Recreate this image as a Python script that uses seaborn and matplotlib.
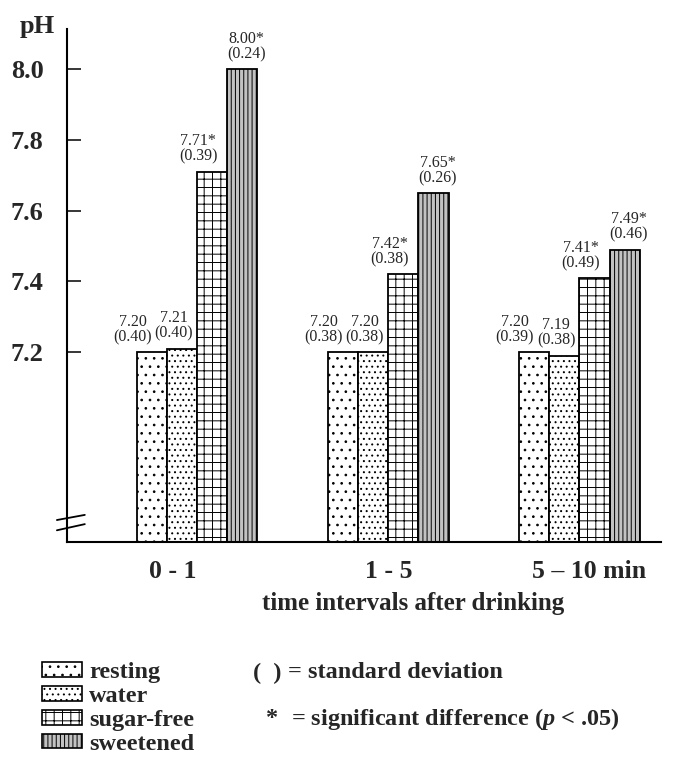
import pandas as pd
import matplotlib.pyplot as plt
import seaborn as sns
from matplotlib.patches import Patch
from matplotlib.transforms import ScaledTranslation

# data
intervals = ["0 - 1", "1 - 5", "5 – 10 min"]
conditions = ["resting", "water", "sugar-free", "sweetened"]
resting = [7.20, 7.20, 7.20]
water = [7.21, 7.20, 7.19]
sugar_free = [7.71, 7.42, 7.41]
sweetened = [8.00, 7.65, 7.49]
sd_resting = [0.40, 0.38, 0.39]
sd_water = [0.40, 0.38, 0.38]
sd_sugar_free = [0.39, 0.38, 0.49]
sd_sweetened = [0.24, 0.26, 0.46]
sig_resting = [False, False, False]
sig_water = [False, False, False]
sig_sugar_free = [True, True, True]
sig_sweetened = [True, True, True]

means = [resting, water, sugar_free, sweetened]
sds = [sd_resting, sd_water, sd_sugar_free, sd_sweetened]
sigs = [sig_resting, sig_water, sig_sugar_free, sig_sweetened]

rows = []
for c, vals in zip(conditions, means):
    for t, v in zip(intervals, vals):
        rows.append({"interval": t, "condition": c, "pH": v})
df = pd.DataFrame(rows)

sns.set_style("white")
plt.rcParams["font.family"] = ["Liberation Serif", "DejaVu Serif"]
plt.rcParams["mathtext.fontset"] = "custom"
plt.rcParams["mathtext.it"] = "Liberation Serif:italic:bold"
plt.rcParams["mathtext.rm"] = "Liberation Serif:bold"
plt.rcParams["hatch.linewidth"] = 0.7

fig = plt.figure(figsize=(6.95, 7.7), dpi=100)
ax = fig.add_axes([0.0964, 0.296, 0.854, 0.666])

colors = ["white", "white", "white", "#c2c2c2"]
hatches = ["..", "...", "++", "||||"]

sns.barplot(data=df, x="interval", y="pH", hue="condition", order=intervals,
            hue_order=conditions, palette=colors, saturation=1, width=0.63,
            edgecolor="black", linewidth=1.3, legend=False, ax=ax)

# label offsets (points) per condition
dx = [-14, -6, -10, 3]
for i, cont in enumerate(ax.containers):
    for j, bar in enumerate(cont):
        bar.set_hatch(hatches[i])
        x = bar.get_x() + bar.get_width() / 2
        y = bar.get_height()
        star = "*" if sigs[i][j] else ""
        ax.annotate(f"{means[i][j]:.2f}{star}\n({sds[i][j]:.2f})", (x, y),
                    xytext=(dx[i], 5), textcoords="offset points",
                    ha="center", va="bottom", fontsize=11.5, linespacing=0.95)

ax.set_ylim(6.663, 8.113)
ax.set_xlim(-0.681, 2.424)
ax.set_yticks([7.2, 7.4, 7.6, 7.8, 8.0])
ax.set_yticklabels(["7.2", "7.4", "7.6", "7.8", "8.0"], fontsize=19, fontweight="bold")
ax.tick_params(axis="y", direction="in", length=10, width=1.3, pad=17, left=True)
ax.tick_params(axis="x", length=0, pad=13)
shifts = [-24, 0, 10]
for lab, s in zip(ax.get_xticklabels(), shifts):
    lab.set_fontsize(18.5)
    lab.set_fontweight("bold")
    lab.set_transform(lab.get_transform() + ScaledTranslation(s / 100, 0, fig.dpi_scale_trans))

sns.despine(ax=ax)
for s in ["left", "bottom"]:
    ax.spines[s].set_linewidth(1.5)
    ax.spines[s].set_color("black")

ax.set_ylabel("")
ax.set_xlabel("time intervals after drinking", fontsize=18, fontweight="bold")
ax.xaxis.set_label_coords(0.583, -0.097)

# axis break marks
ax.plot([-0.017, 0.030], [0.043, 0.053], transform=ax.transAxes, color="black", lw=1.3, clip_on=False)
ax.plot([-0.017, 0.030], [0.023, 0.035], transform=ax.transAxes, color="black", lw=1.3, clip_on=False)

fig.text(20 / 695, 1 - 27 / 770, "pH", fontsize=19, fontweight="bold", va="center", ha="left")

handles = [Patch(facecolor=c, edgecolor="black", hatch=h, linewidth=1.2) for c, h in zip(colors, hatches)]
fig.legend(handles, conditions, loc="upper left", bbox_to_anchor=(42 / 695, 1 - 662 / 770),
           frameon=False, prop={"weight": "bold", "size": 17.5},
           handlelength=1.65, handleheight=0.55, handletextpad=0.3,
           labelspacing=0.12, borderpad=0, borderaxespad=0)

fig.text(253 / 695, 1 - 673 / 770, "(  )", fontsize=17.5, fontweight="bold", va="center")
fig.text(288 / 695, 1 - 673 / 770, "= standard deviation", fontsize=17.5, fontweight="bold", va="center")
fig.text(266 / 695, 1 - 719 / 770, "*", fontsize=17.5, fontweight="bold", va="center")
fig.text(291 / 695, 1 - 719 / 770, "= significant difference ($p$ < .05)", fontsize=17.5,
         fontweight="bold", va="center")

fig.savefig("out.png", dpi=100)
